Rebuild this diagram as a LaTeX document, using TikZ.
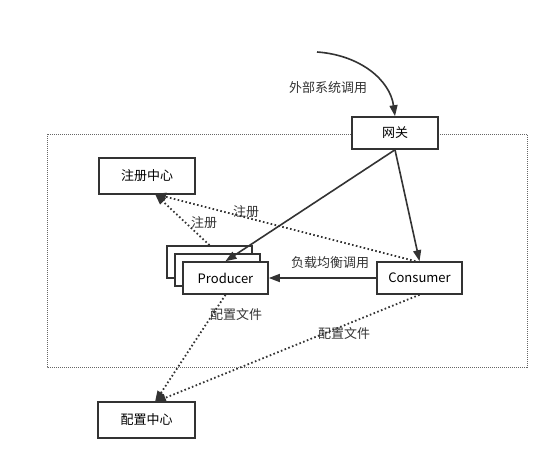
\documentclass[tikz,border=0pt]{standalone}
\usepackage{fontspec}
\setmainfont{Noto Sans CJK SC}
\usetikzlibrary{arrows.meta}
\definecolor{ink}{HTML}{333333}
\tikzset{
  box/.style={draw=ink, line width=1.6pt, fill=white, minimum height=32pt, inner sep=0pt, font=\fontsize{13}{15}\selectfont},
  solidarrow/.style={draw=ink, line width=1.6pt, -{Triangle[length=11pt,width=8pt]}},
  dotarrow/.style={draw=ink, line width=1.8pt, dash pattern=on 1.6pt off 2.4pt, -{Triangle[length=11pt,width=8pt]}},
  lbl/.style={font=\fontsize{13}{15}\selectfont, text=ink, inner sep=1pt},
}
\begin{document}
\begin{tikzpicture}[x=1pt,y=-1pt]
\useasboundingbox (0,0) rectangle (559,470);
% container
\draw[gray!80!black, line width=0.6pt, dash pattern=on 1pt off 1pt] (47,134) rectangle (527,367);
% nodes
\node[box, minimum width=86pt] (gw) at (395,133) {网关};
\node[box, minimum width=96pt, minimum height=36pt] (reg) at (147,176) {注册中心};
\node[box, minimum width=85pt] (p3) at (209.5,262) {};
\node[box, minimum width=85pt] (p2) at (217.5,270) {};
\node[box, minimum width=85pt] (prod) at (225.5,278) {Producer};
\node[box, minimum width=85pt] (cons) at (419.5,278) {Consumer};
\node[box, minimum width=97pt, minimum height=36pt] (cfg) at (146.5,420) {配置中心};
% external call
\coordinate (ext) at (317,52);
\draw[solidarrow] (ext) .. controls (360,55) and (390,80) .. (gw.north);
\node[lbl] (extl) at (328,88) {外部系统调用};
% gateway arrows
\draw[solidarrow] (gw.south) -- (prod.north);
\draw[solidarrow] (gw.south) -- (cons.north);
% load balance
\draw[solidarrow] (cons.west) -- (prod.east);
\node[lbl] (lbl1) at (330,263) {负载均衡调用};
% registration
\coordinate (regtip) at (155,194);
\path (cons.north) ++(-4,0) coordinate (cn);
\draw[dotarrow] (cn) -- (regtip);
\draw[dotarrow] (p3.north) -- (regtip);
\node[lbl] (lr1) at (246,212) {注册};
\node[lbl] (lr2) at (204,223) {注册};
% config
\coordinate (cfgtip) at (155,402);
\draw[dotarrow] (prod.south) -- (cfgtip);
\draw[dotarrow] (cons.south) -- (cfgtip);
\node[lbl] (lc1) at (236,315) {配置文件};
\node[lbl] (lc2) at (344,334) {配置文件};
\end{tikzpicture}
\end{document}
